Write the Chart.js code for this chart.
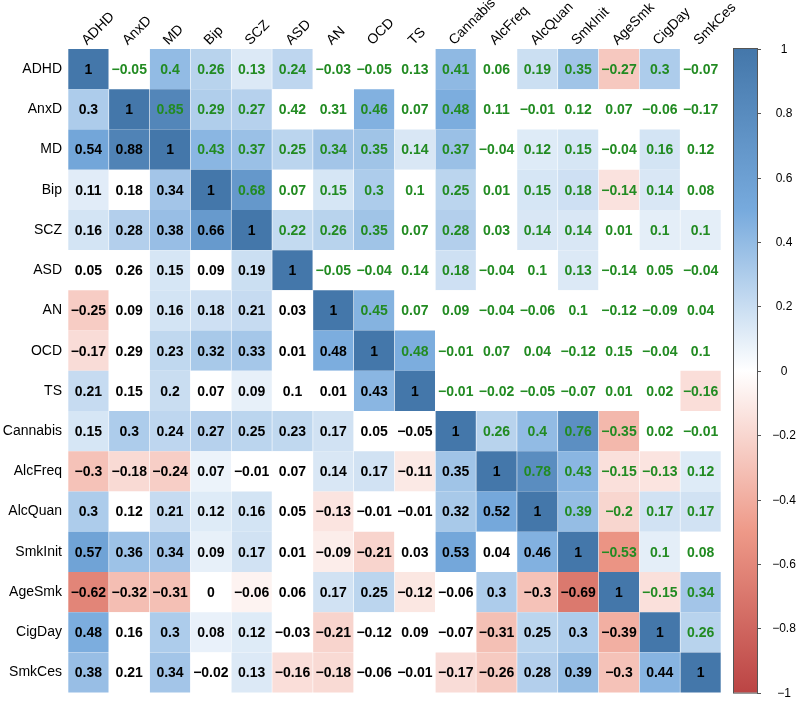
<!DOCTYPE html>
<html>
<head>
<meta charset="utf-8">
<script src="https://cdn.jsdelivr.net/npm/chart.js@4.4.1/dist/chart.umd.min.js"></script>
<style>
  html, body { margin: 0; padding: 0; background: #ffffff; }
  #wrap { width: 800px; height: 707px; position: relative; }
</style>
</head>
<body>
<div id="wrap"><canvas id="c"></canvas></div>
<script>
// ---------- DATA ----------
const traits = ["ADHD","AnxD","MD","Bip","SCZ","ASD","AN","OCD","TS","Cannabis","AlcFreq","AlcQuan","SmkInit","AgeSmk","CigDay","SmkCes"];

// correlation values, one row per trait (columns in the order of `traits`)
const rowADHD     = [1, -0.05, 0.4, 0.26, 0.13, 0.24, -0.03, -0.05, 0.13, 0.41, 0.06, 0.19, 0.35, -0.27, 0.3, -0.07];
const rowAnxD     = [0.3, 1, 0.85, 0.29, 0.27, 0.42, 0.31, 0.46, 0.07, 0.48, 0.11, -0.01, 0.12, 0.07, -0.06, -0.17];
const rowMD       = [0.54, 0.88, 1, 0.43, 0.37, 0.25, 0.34, 0.35, 0.14, 0.37, -0.04, 0.12, 0.15, -0.04, 0.16, 0.12];
const rowBip      = [0.11, 0.18, 0.34, 1, 0.68, 0.07, 0.15, 0.3, 0.1, 0.25, 0.01, 0.15, 0.18, -0.14, 0.14, 0.08];
const rowSCZ      = [0.16, 0.28, 0.38, 0.66, 1, 0.22, 0.26, 0.35, 0.07, 0.28, 0.03, 0.14, 0.14, 0.01, 0.1, 0.1];
const rowASD      = [0.05, 0.26, 0.15, 0.09, 0.19, 1, -0.05, -0.04, 0.14, 0.18, -0.04, 0.1, 0.13, -0.14, 0.05, -0.04];
const rowAN       = [-0.25, 0.09, 0.16, 0.18, 0.21, 0.03, 1, 0.45, 0.07, 0.09, -0.04, -0.06, 0.1, -0.12, -0.09, 0.04];
const rowOCD      = [-0.17, 0.29, 0.23, 0.32, 0.33, 0.01, 0.48, 1, 0.48, -0.01, 0.07, 0.04, -0.12, 0.15, -0.04, 0.1];
const rowTS       = [0.21, 0.15, 0.2, 0.07, 0.09, 0.1, 0.01, 0.43, 1, -0.01, -0.02, -0.05, -0.07, 0.01, 0.02, -0.16];
const rowCannabis = [0.15, 0.3, 0.24, 0.27, 0.25, 0.23, 0.17, 0.05, -0.05, 1, 0.26, 0.4, 0.76, -0.35, 0.02, -0.01];
const rowAlcFreq  = [-0.3, -0.18, -0.24, 0.07, -0.01, 0.07, 0.14, 0.17, -0.11, 0.35, 1, 0.78, 0.43, -0.15, -0.13, 0.12];
const rowAlcQuan  = [0.3, 0.12, 0.21, 0.12, 0.16, 0.05, -0.13, -0.01, -0.01, 0.32, 0.52, 1, 0.39, -0.2, 0.17, 0.17];
const rowSmkInit  = [0.57, 0.36, 0.34, 0.09, 0.17, 0.01, -0.09, -0.21, 0.03, 0.53, 0.04, 0.46, 1, -0.53, 0.1, 0.08];
const rowAgeSmk   = [-0.62, -0.32, -0.31, 0, -0.06, 0.06, 0.17, 0.25, -0.12, -0.06, 0.3, -0.3, -0.69, 1, -0.15, 0.34];
const rowCigDay   = [0.48, 0.16, 0.3, 0.08, 0.12, -0.03, -0.21, -0.12, 0.09, -0.07, -0.31, 0.25, 0.3, -0.39, 1, 0.26];
const rowSmkCes   = [0.38, 0.21, 0.34, -0.02, 0.13, -0.16, -0.18, -0.06, -0.01, -0.17, -0.26, 0.28, 0.39, -0.3, 0.44, 1];

// which cells are coloured (1) or left blank (0)
const shadedMask = [
  "1011110001011110",
  "1111100101000000",
  "1111111111011010",
  "1011101101011110",
  "1111111101011011",
  "0010110001001000",
  "1011101100000000",
  "1011101110000000",
  "1010100110000001",
  "1111111001111100",
  "1111001111111111",
  "1011101001111111",
  "1111101101011110",
  "1110101110111111",
  "1011101000111111",
  "1010111001111111"
];

const colorbarTicks = [1, 0.8, 0.6, 0.4, 0.2, 0, -0.2, -0.4, -0.6, -0.8, -1];

// ---------- BUILD ----------
const matrix = [rowADHD, rowAnxD, rowMD, rowBip, rowSCZ, rowASD, rowAN, rowOCD, rowTS,
                rowCannabis, rowAlcFreq, rowAlcQuan, rowSmkInit, rowAgeSmk, rowCigDay, rowSmkCes];

const paletteStops = [
  [-1,  [187, 68, 68]],
  [-0.5,[238, 153, 136]],
  [0,   [255, 255, 255]],
  [0.5, [119, 170, 221]],
  [1,   [68, 119, 170]]
];
function colorFor(v) {
  for (let i = 0; i < paletteStops.length - 1; i++) {
    const [a, ca] = paletteStops[i], [b, cb] = paletteStops[i + 1];
    if (v >= a && v <= b) {
      const t = (v - a) / (b - a);
      const c = ca.map((x, k) => Math.round(x + (cb[k] - x) * t));
      return `rgb(${c[0]},${c[1]},${c[2]})`;
    }
  }
  return '#ffffff';
}
function fmt(v) {
  return (v < 0 ? '\u2212' : '') + String(Math.abs(v));
}

const cells = [];
matrix.forEach((row, r) => {
  row.forEach((v, c) => {
    cells.push({ x: traits[c], y: traits[r], v: v, r: r, c: c, s: shadedMask[r][c] === '1' });
  });
});

const FONT = '"Liberation Sans", Arial, Helvetica, sans-serif';

const cellText = {
  id: 'cellText',
  afterDatasetsDraw(chart) {
    const ctx = chart.ctx;
    const meta = chart.getDatasetMeta(0);
    const data = chart.data.datasets[0].data;
    ctx.save();
    ctx.font = 'bold 14px ' + FONT;
    ctx.textAlign = 'center';
    ctx.textBaseline = 'middle';
    meta.data.forEach((pt, i) => {
      const d = data[i];
      ctx.fillStyle = d.c > d.r ? '#228B22' : '#000000';
      ctx.fillText(fmt(d.v), pt.x, pt.y + 1);
    });
    ctx.restore();
  }
};

// rotated column labels placed at the x-scale tick positions
const columnLabels = {
  id: 'columnLabels',
  afterDraw(chart) {
    const ctx = chart.ctx;
    const xs = chart.scales.x;
    const top = chart.chartArea.top;
    ctx.save();
    ctx.font = '14px ' + FONT;
    ctx.fillStyle = '#000000';
    ctx.textAlign = 'left';
    ctx.textBaseline = 'alphabetic';
    traits.forEach((lab, i) => {
      const x = xs.getPixelForTick(i);
      ctx.save();
      ctx.translate(x - 1.5, top - 3.5);
      ctx.rotate(-Math.PI / 4);
      ctx.fillText(lab, 0, 0);
      ctx.restore();
    });
    ctx.restore();
  }
};

const colorbar = {
  id: 'colorbar',
  afterDraw(chart) {
    const ctx = chart.ctx;
    const cb = chart.scales.cb;
    const area = chart.chartArea;
    const yTop = cb.getPixelForValue(1), yBot = cb.getPixelForValue(-1);
    const x0 = area.right + 12, w = 24;
    const g = ctx.createLinearGradient(0, yTop, 0, yBot);
    paletteStops.slice().reverse().forEach(([v, c]) => {
      g.addColorStop((1 - v) / 2, `rgb(${c[0]},${c[1]},${c[2]})`);
    });
    ctx.save();
    ctx.fillStyle = g;
    ctx.fillRect(x0, yTop, w, yBot - yTop);
    ctx.strokeStyle = '#555555';
    ctx.lineWidth = 1;
    ctx.strokeRect(x0 + 0.5, yTop - 0.5, w, yBot - yTop + 1);
    ctx.font = '12px ' + FONT;
    ctx.fillStyle = '#000000';
    ctx.textAlign = 'center';
    ctx.textBaseline = 'middle';
    colorbarTicks.forEach(v => {
      const y = Math.round(cb.getPixelForValue(v)) + 0.5;
      ctx.beginPath();
      ctx.moveTo(x0 + w, y);
      ctx.lineTo(x0 + w + 4, y);
      ctx.stroke();
      ctx.fillText(fmt(v), x0 + w + 27, y);
    });
    ctx.restore();
  }
};

new Chart(document.getElementById('c'), {
  type: 'scatter',
  data: {
    datasets: [{
      data: cells,
      pointStyle: 'rect',
      pointRadius: (ctx) => {
        const xs = ctx.chart.scales.x;
        const w = xs.width / traits.length;
        return (w - 0.6) / Math.SQRT2;
      },
      backgroundColor: (ctx) => (ctx.raw && ctx.raw.s) ? colorFor(ctx.raw.v) : '#ffffff',
      borderWidth: 0,
      borderColor: 'rgba(0,0,0,0)'
    }]
  },
  plugins: [cellText, columnLabels, colorbar],
  options: {
    responsive: true,
    maintainAspectRatio: false,
    devicePixelRatio: 1,
    animation: false,
    events: [],
    layout: { padding: { top: 0, left: 0, right: 79, bottom: 5 } },
    plugins: { legend: { display: false }, tooltip: { enabled: false } },
    scales: {
      x: {
        type: 'category',
        labels: traits,
        position: 'top',
        offset: true,
        grid: { display: false, drawTicks: false },
        border: { display: false },
        ticks: { display: false, autoSkip: false },
        afterFit: (s) => { s.height = 49; }
      },
      y: {
        type: 'category',
        labels: traits,
        offset: true,
        grid: { display: false, drawTicks: false },
        border: { display: false },
        ticks: { autoSkip: false, padding: 6, color: '#000000', font: { size: 14, family: FONT } },
        afterFit: (s) => { s.width = 68; }
      },
      cb: {
        type: 'linear', axis: 'y', position: 'right', display: false, min: -1, max: 1
      }
    }
  }
});
</script>
</body>
</html>
